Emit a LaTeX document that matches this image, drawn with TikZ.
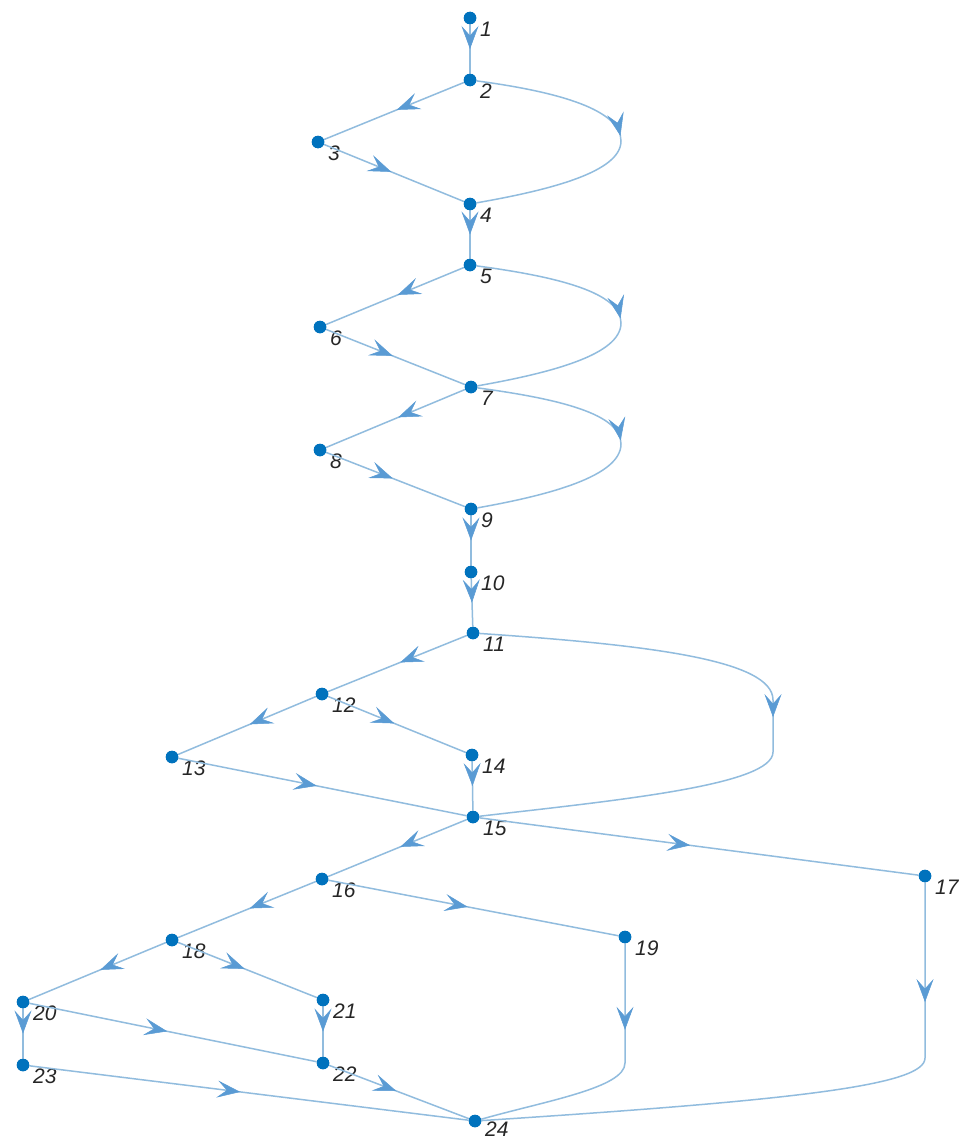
\documentclass[tikz,border=0pt]{standalone}
\usepackage{fontspec}
\setmainfont{Liberation Sans}
\usetikzlibrary{arrows.meta,decorations.markings}
\definecolor{dotblue}{RGB}{0,114,189}
\definecolor{edgeblue}{RGB}{145,188,222}
\definecolor{arrblue}{RGB}{90,155,212}
\definecolor{labgray}{RGB}{38,38,38}
\newcommand{\gvertex}[4][11]{%
  \node[vtx] (n#2) at (#3,#4) {};
  \node[lab] (l#2) at (#3+10,#4+#1) {#2};}
\begin{document}
\begin{tikzpicture}[x=1pt,y=-1pt,
  vtx/.style={circle,fill=dotblue,inner sep=0pt,minimum size=12.5pt},
  lab/.style={anchor=west,inner sep=0pt,text=labgray,font=\fontsize{21}{21}\selectfont\itshape},
  edge/.style={draw=edgeblue,line width=1.5pt},
  arrowat/.style={postaction={decorate,decoration={markings,
     mark=at position #1 with {\arrow[arrblue,line width=0.5pt]{Stealth[length=23pt,width=17pt,inset=9.5pt]}}}}},
  arrowat/.default=0.48]
\useasboundingbox[fill=white] (0,0) rectangle (962,1140);

\coordinate (c24a) at (621,141);
\coordinate (c57) at (621,323);
\coordinate (c79) at (621,444);
\coordinate (c1115a) at (773,700);
\coordinate (c1115b) at (773,752);
\coordinate (c1724) at (925,1058);
\coordinate (c1924) at (625,1063);

\gvertex{1}{470}{18}
\gvertex{2}{470}{80}
\gvertex{3}{318}{142}
\gvertex{4}{470}{204}
\gvertex{5}{470}{265}
\gvertex{6}{320}{327}
\gvertex{7}{471}{387}
\gvertex{8}{320}{450}
\gvertex{9}{471}{509}
\gvertex{10}{471}{572}
\gvertex{11}{473}{633}
\gvertex{12}{322}{694}
\gvertex{13}{172}{757}
\gvertex{14}{472}{755}
\gvertex{15}{473}{817}
\gvertex{16}{322}{879}
\gvertex{17}{925}{876}
\gvertex{18}{172}{940}
\gvertex{19}{625}{937}
\gvertex{20}{23}{1002}
\gvertex{21}{323}{1000}
\gvertex{22}{323}{1063}
\gvertex{23}{23}{1065}
\gvertex[8]{24}{475}{1121}

\path[edge,arrowat=0.5] (n1) -- (n2);
\path[edge,arrowat] (n2) -- (n3);
\path[edge,arrowat=0.485] (n2) .. controls (560,92) and (621,110) .. (c24a) .. controls (621,172) and (550,190) .. (n4);
\path[edge,arrowat] (n3) -- (n4);
\path[edge,arrowat=0.5] (n4) -- (n5);
\path[edge,arrowat] (n5) -- (n6);
\path[edge,arrowat=0.485] (n5) .. controls (560,277) and (621,293) .. (c57) .. controls (621,355) and (550,373) .. (n7);
\path[edge,arrowat] (n6) -- (n7);
\path[edge,arrowat] (n7) -- (n8);
\path[edge,arrowat=0.485] (n7) .. controls (560,399) and (621,414) .. (c79) .. controls (621,476) and (550,495) .. (n9);
\path[edge,arrowat] (n8) -- (n9);
\path[edge,arrowat=0.5] (n9) -- (n10);
\path[edge,arrowat=0.5] (n10) -- (n11);
\path[edge,arrowat] (n11) -- (n12);
\path[edge,arrowat=0.49] (n11) .. controls (650,645) and (773,660) .. (c1115a) -- (c1115b) .. controls (773,785) and (620,800) .. (n15);
\path[edge,arrowat] (n12) -- (n13);
\path[edge,arrowat] (n12) -- (n14);
\path[edge,arrowat] (n13) -- (n15);
\path[edge,arrowat=0.5] (n14) -- (n15);
\path[edge,arrowat] (n15) -- (n16);
\path[edge,arrowat] (n15) -- (n17);
\path[edge,arrowat] (n16) -- (n18);
\path[edge,arrowat] (n16) -- (n19);
\path[edge,arrowat=0.19] (n17) -- (c1724) .. controls (925,1085) and (800,1100) .. (n24);
\path[edge,arrowat] (n18) -- (n20);
\path[edge,arrowat] (n18) -- (n21);
\path[edge,arrowat=0.31] (n19) -- (c1924) .. controls (625,1088) and (545,1101) .. (n24);
\path[edge,arrowat] (n20) -- (n22);
\path[edge,arrowat=0.5] (n20) -- (n23);
\path[edge,arrowat=0.5] (n21) -- (n22);
\path[edge,arrowat] (n22) -- (n24);
\path[edge,arrowat] (n23) -- (n24);

\foreach \i in {1,...,24} {\fill[dotblue] (n\i) circle (6.25pt);}
\end{tikzpicture}
\end{document}
